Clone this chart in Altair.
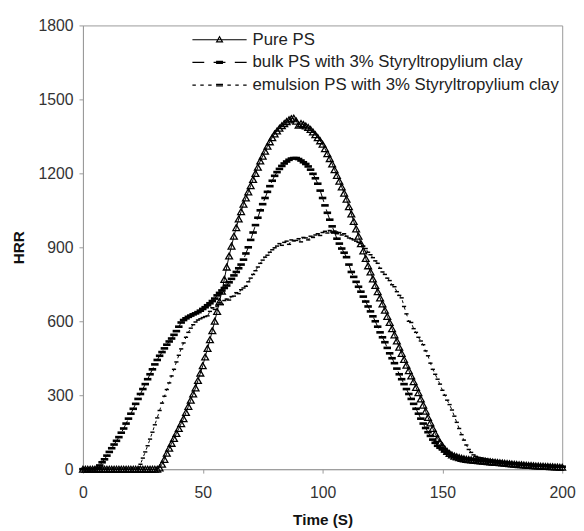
import altair as alt
import pandas as pd

series_names = [
    "Pure PS",
    "bulk PS with 3% Styryltropylium clay",
    "emulsion PS with 3% Styryltropylium clay",
]

time_s = list(range(0, 201))

pure_ps = [
    0, 0, 0, 0, 0, 0, 0, 0, 0, 0,
    0, 0, 0, 0, 0, 0, 0, 0, 0, 0,
    0, 0, 0, 0, 0, 0, 0, 0, 0, 0,
    0, 0, 5, 20, 40, 65, 85, 105, 125, 145,
    165, 185, 205, 230, 255, 280, 305, 330, 360, 390,
    420, 455, 490, 525, 562, 600, 640, 680, 722, 770,
    820, 865, 905, 945, 980, 1015, 1045, 1075, 1100, 1125,
    1150, 1175, 1200, 1225, 1250, 1270, 1290, 1310, 1328, 1345,
    1360, 1372, 1383, 1393, 1402, 1410, 1417, 1422, 1424, 1412,
    1396, 1402, 1398, 1392, 1386, 1378, 1368, 1357, 1345, 1332,
    1318, 1300, 1280, 1260, 1238, 1215, 1192, 1168, 1145, 1120,
    1095, 1065, 1035, 1005, 975, 945, 915, 885, 855, 825,
    800, 772, 745, 720, 695, 670, 645, 620, 595, 570,
    545, 520, 495, 470, 445, 422, 400, 378, 355, 332,
    310, 285, 260, 235, 210, 188, 165, 145, 125, 108,
    95, 82, 72, 64, 58, 53, 50, 47, 44, 42,
    40, 39, 38, 37, 36, 35, 34, 33, 32, 31,
    30, 29, 28, 27, 26, 25, 24, 23, 22, 21,
    20, 19, 18, 18, 17, 16, 15, 15, 14, 13,
    13, 12, 12, 11, 11, 10, 10, 9, 9, 8,
    8,
]

bulk_ps = [
    0, 0, 0, 0, 0, 0, 5, 15, 28, 40,
    55, 70, 85, 100, 115, 130, 148, 165, 185, 205,
    225, 245, 265, 285, 305, 325, 345, 365, 385, 405,
    425, 443, 460, 475, 490, 505, 518, 530, 545, 560,
    578, 595, 605, 612, 618, 623, 628, 632, 637, 643,
    650, 657, 665, 673, 682, 692, 705, 715, 725, 735,
    745, 758, 772, 786, 800, 815, 830, 850, 875, 900,
    930, 960, 990, 1020, 1050, 1075, 1100, 1125, 1148, 1170,
    1190, 1205, 1218, 1230, 1240, 1248, 1255, 1260, 1262, 1262,
    1258, 1252, 1245, 1238, 1228, 1215, 1198, 1180, 1158, 1130,
    1100, 1070, 1040, 1012, 985, 960, 935, 915, 895, 878,
    860, 830, 800, 780, 760, 740, 720, 700, 680, 660,
    640, 620, 600, 578, 555, 535, 515, 492, 470, 450,
    430, 408, 385, 365, 345, 325, 305, 285, 265, 245,
    225, 205, 185, 167, 150, 135, 120, 107, 95, 87,
    80, 72, 65, 60, 55, 51, 48, 46, 44, 42,
    41, 40, 39, 38, 37, 36, 35, 34, 33, 32,
    31, 30, 29, 28, 27, 26, 25, 24, 24, 23,
    22, 21, 20, 20, 19, 18, 17, 17, 16, 15,
    15, 14, 14, 13, 13, 12, 12, 11, 11, 10,
    10,
]

emulsion_ps = [
    0, 0, 0, 0, 0, 0, 0, 0, 0, 0,
    0, 0, 0, 0, 0, 0, 0, 0, 0, 0,
    0, 0, 0, 2, 20, 45, 70, 95, 122, 150,
    180, 208, 238, 268, 296, 323, 350, 378, 405, 435,
    462, 488, 512, 535, 555, 572, 586, 597, 605, 610,
    615, 619, 622, 640, 655, 648, 662, 675, 668, 684,
    690, 686, 700, 702, 716, 712, 728, 735, 742, 760,
    775, 790, 805, 820, 835, 848, 860, 868, 880, 890,
    898, 905, 915, 908, 920, 925, 912, 930, 926, 928,
    935, 922, 940, 938, 930, 945, 940, 950, 955, 948,
    960, 965, 958, 968, 962, 966, 955, 960, 950, 955,
    945, 938, 935, 930, 925, 920, 915, 905, 895, 880,
    870, 858, 845, 835, 815, 800, 790, 775, 765, 748,
    740, 720, 705, 695, 660, 630, 600, 595, 570, 555,
    535, 520, 505, 480, 460, 430, 405, 385, 365, 345,
    320, 300, 280, 262, 240, 215, 190, 165, 140, 118,
    98, 80, 68, 58, 52, 48, 46, 44, 42, 40,
    38, 36, 35, 33, 32, 31, 30, 28, 27, 26,
    25, 24, 23, 22, 21, 20, 19, 18, 17, 16,
    16, 15, 14, 13, 12, 12, 11, 10, 10, 9,
    8,
]

x_ticks = [0, 50, 100, 150, 200]
y_ticks = [0, 300, 600, 900, 1200, 1500, 1800]

rows = []
for name, vals in zip(series_names, [pure_ps, bulk_ps, emulsion_ps]):
    for t, v in zip(time_s, vals):
        rows.append({"time": t, "hrr": v, "series": name})
df = pd.DataFrame(rows)

FONT = "Liberation Sans"

bar_path = "M-1,-0.35H1V0.35H-1Z"

legend_paths = [
    "M-5.5,0H5.5M-0.6,0.45L0,-0.6L0.6,0.45Z",
    "M-5.5,0H-3.1M-1.2,0H1.2M3.1,0H5.5M-0.7,-0.2H0.7M-0.7,0.2H0.7",
    "M-5.5,0H-4.8M-3.9,0H-3.2M-2.3,0H-1.6M-0.7,-0.15H0.7M-0.7,0.15H0.7"
    "M1.6,0H2.3M3.2,0H3.9M4.8,0H5.5",
]

base = alt.Chart(df).encode(
    x=alt.X(
        "time:Q",
        scale=alt.Scale(domain=[0, 200], nice=False),
        axis=alt.Axis(values=x_ticks, title="Time (S)", labelPadding=12,
                      titlePadding=12, labelFlush=False),
    ),
    y=alt.Y(
        "hrr:Q",
        scale=alt.Scale(domain=[0, 1800], nice=False),
        axis=alt.Axis(values=y_ticks, title="HRR", format="d", labelPadding=6,
                      titlePadding=12, labelFlush=False),
    ),
)


def only(name):
    return base.transform_filter(alt.datum.series == name)


pure_line = only(series_names[0]).mark_line(color="black", strokeWidth=1)
bulk_line = only(series_names[1]).mark_line(color="black", strokeWidth=1, strokeDash=[12, 8])
emul_line = only(series_names[2]).mark_line(color="black", strokeWidth=1, strokeDash=[3, 4])

pure_pts = only(series_names[0]).mark_point(
    shape="triangle-up", size=48, filled=False, color="black", strokeWidth=1.3, opacity=1
)
bulk_pts = only(series_names[1]).mark_point(
    shape=bar_path, size=58, filled=True, color="black", opacity=1
)
emul_pts = only(series_names[2]).mark_point(
    shape=bar_path, size=18, filled=True, color="black", opacity=1
)

legend_proxy = base.transform_filter("false").mark_point(
    filled=False, color="black", strokeWidth=1, opacity=1
).encode(
    shape=alt.Shape(
        "series:N",
        scale=alt.Scale(domain=series_names, range=legend_paths),
        legend=alt.Legend(
            orient="none",
            legendX=108,
            legendY=6,
            title=None,
            symbolSize=100,
            symbolOffset=22,
            labelOffset=25,
            labelLimit=0,
            labelFont=FONT,
            labelFontSize=17,
            labelColor="#222",
            rowPadding=5,
            symbolStrokeColor="black",
            symbolStrokeWidth=1.2,
        ),
    )
)

chart = (
    alt.layer(pure_line, bulk_line, emul_line, pure_pts, bulk_pts, emul_pts, legend_proxy)
    .properties(
        width=486,
        height=450,
        autosize=alt.AutoSizeParams(type="none"),
        padding={"left": 76, "top": 14, "right": 14, "bottom": 58},
        background="white",
    )
    .configure_view(stroke="#999999", strokeWidth=1)
    .configure_axis(
        grid=False,
        labelFont=FONT,
        labelFontSize=16,
        labelColor="#333333",
        titleFont=FONT,
        titleFontSize=15.5,
        titleFontWeight="bold",
        titleColor="#111111",
        domainColor="#999999",
        tickColor="#999999",
        tickSize=4,
    )
)

chart.save("out.html", embed_options={"renderer": "svg", "actions": False})
